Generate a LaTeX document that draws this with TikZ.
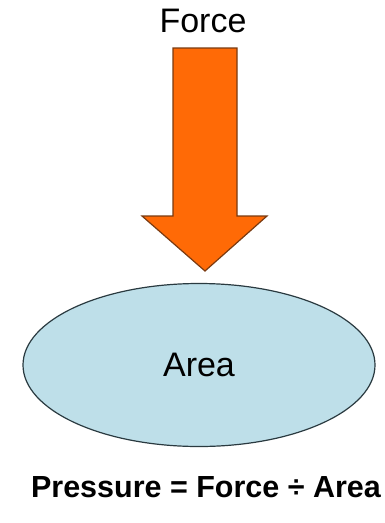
\documentclass[tikz,border=0pt]{standalone}
\usepackage{fontspec}
\setmainfont{Liberation Sans}
\usetikzlibrary{shapes.geometric}
\definecolor{arroworange}{HTML}{FF6A06}
\definecolor{arrowedge}{HTML}{7A3A10}
\definecolor{areablue}{HTML}{BEDFE9}
\definecolor{edgedark}{HTML}{2A3A40}
\tikzset{
  lbl/.style={inner sep=0pt, font=\fontsize{34}{40}\selectfont},
  formula/.style={inner sep=0pt, font=\bfseries\fontsize{30.5}{36}\selectfont},
  areashape/.style={ellipse, draw=edgedark, line width=1.2pt, fill=areablue, minimum width=352pt, minimum height=163pt, inner sep=0pt},
  bigarrow/.style={fill=arroworange, draw=arrowedge, line width=1.2pt, line join=miter}
}
\begin{document}
\begin{tikzpicture}[x=1pt,y=-1pt]
\useasboundingbox (0,0) rectangle (385,523);
\node[lbl] (force) at (203,21) {Force};
\coordinate (tip) at (205,271);
\draw[bigarrow] (173,48) -- (237,48) -- (237,216) -- (267,216) -- (tip) -- (142,216) -- (173,216) -- cycle;
\node[areashape] (area) at (199,365) {};
\node[lbl] at (area.center) {Area};
\node[formula] (formula) at (206,487) {Pressure = Force ÷ Area};
\end{tikzpicture}
\end{document}
